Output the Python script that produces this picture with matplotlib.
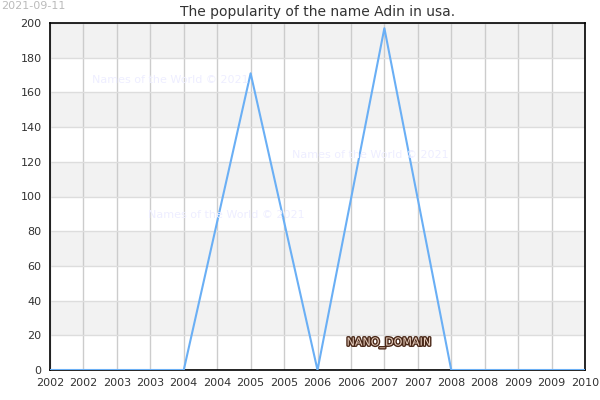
import matplotlib
matplotlib.use("Agg")
import matplotlib.pyplot as plt
import matplotlib.patheffects as pe
import numpy as np

years = [2002, 2003, 2004, 2005, 2006, 2007, 2008, 2009, 2010]
counts = [0, 0, 0, 171, 0, 197, 0, 0, 0]
title = "The popularity of the name Adin in usa."
date_label = "2021-09-11"
watermark = "Names of the World © 2021"
brand = "NANO_DOMAIN"

fig = plt.figure(figsize=(6, 4), dpi=100)
ax = fig.add_axes([50/600, 30/400, 535/600, 347/400])

ax.set_xlim(2002, 2010)
ax.set_ylim(0, 200)

# alternating bands
for lo in range(0, 200, 20):
    if (lo // 20) % 2 == 1:
        ax.axhspan(lo, lo + 20, color="#f2f2f2", zorder=0, lw=0)

xt = np.arange(2002, 2010.01, 0.5)
ax.set_xticks(xt)
ax.set_xticklabels([str(int(np.floor(v))) for v in xt])
ax.set_yticks(range(0, 201, 20))
ax.grid(True, color="#cccccc", lw=1, zorder=1)
ax.yaxis.grid(True, color="#dddddd")
ax.tick_params(length=0, labelsize=8, colors="#333333", pad=6)
for s in ax.spines.values():
    s.set_color("black")
    s.set_linewidth(1.2)

ax.plot(years, counts, color="#6aaff5", lw=1.5, zorder=3)

ax.set_title(title, fontsize=10, color="#333333", pad=5)
fig.text(0.002, 0.998, date_label, fontsize=8, color="#bbbbbb", va="top", ha="left")

wm_color = "#eeeeff"
fig.text(92/600, 1 - 80/400, watermark, fontsize=8, color=wm_color, va="center", ha="left", zorder=2)
fig.text(292/600, 1 - 155/400, watermark, fontsize=8, color=wm_color, va="center", ha="left", zorder=2)
fig.text(148/600, 1 - 215/400, watermark, fontsize=8, color=wm_color, va="center", ha="left", zorder=2)

t = fig.text(389/600, 1 - 343/400, brand, fontsize=8, color="#e8d0c0", va="center", ha="center", zorder=5)
t.set_path_effects([pe.withStroke(linewidth=2, foreground="#4a2818")])

fig.savefig("out.png", dpi=100)
